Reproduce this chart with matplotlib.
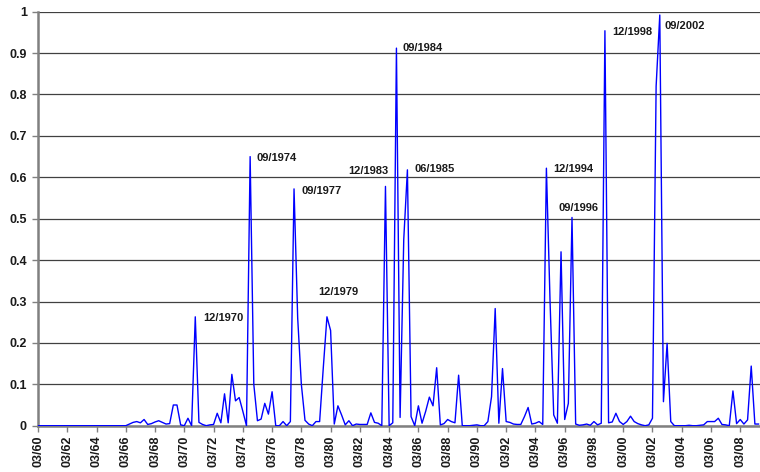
import matplotlib
matplotlib.use('Agg')
import matplotlib.pyplot as plt
from matplotlib.ticker import FixedLocator, FuncFormatter

plt.rcParams['font.family'] = ['Liberation Sans', 'DejaVu Sans']

# quarterly values, 03/1960 .. 06/2009 (one row per year)
values = [
    0, 0, 0, 0,                  # 1960
    0, 0, 0, 0,                  # 1961
    0, 0, 0, 0,                  # 1962
    0, 0, 0, 0,                  # 1963
    0, 0, 0, 0,                  # 1964
    0, 0, 0, 0,                  # 1965
    0.0, 0.004, 0.008, 0.01,     # 1966
    0.007, 0.015, 0.003, 0.005,  # 1967
    0.009, 0.012, 0.008, 0.004,  # 1968
    0.005, 0.05, 0.05, 0.002,    # 1969
    0.0, 0.018, 0.0, 0.263,      # 1970
    0.008, 0.003, 0.0, 0.002,    # 1971
    0.003, 0.03, 0.007, 0.077,   # 1972
    0.007, 0.124, 0.06, 0.068,   # 1973
    0.035, 0.0, 0.65, 0.1,       # 1974
    0.012, 0.016, 0.054, 0.028,  # 1975
    0.082, 0.0, 0.0, 0.01,       # 1976
    0.0, 0.01, 0.572, 0.26,      # 1977
    0.1, 0.013, 0.004, 0.0,      # 1978
    0.01, 0.01, 0.14, 0.263,     # 1979
    0.23, 0.004, 0.048, 0.026,   # 1980
    0.002, 0.012, 0.0, 0.004,    # 1981
    0.003, 0.003, 0.003, 0.031,  # 1982
    0.008, 0.006, 0.0, 0.578,    # 1983
    0.0, 0.007, 0.912, 0.02,     # 1984
    0.45, 0.618, 0.022, 0.0,     # 1985
    0.048, 0.006, 0.035, 0.069,  # 1986
    0.048, 0.14, 0.002, 0.005,   # 1987
    0.015, 0.01, 0.007, 0.122,   # 1988
    0.0, 0.0, 0.0, 0.001,        # 1989
    0.002, 0.0, 0.0, 0.01,       # 1990
    0.07, 0.283, 0.006, 0.138,   # 1991
    0.01, 0.008, 0.004, 0.003,   # 1992
    0.003, 0.022, 0.044, 0.004,  # 1993
    0.006, 0.01, 0.003, 0.622,   # 1994
    0.3, 0.026, 0.006, 0.42,     # 1995
    0.015, 0.054, 0.503, 0.004,  # 1996
    0.001, 0.002, 0.004, 0.001,  # 1997
    0.01, 0.002, 0.006, 0.954,   # 1998
    0.007, 0.009, 0.03, 0.01,    # 1999
    0.003, 0.01, 0.023, 0.01,    # 2000
    0.005, 0.002, 0.0, 0.002,    # 2001
    0.018, 0.82, 0.992, 0.058,   # 2002
    0.199, 0.01, 0.0, 0.0,       # 2003
    0.0, 0.0, 0.001, 0.0,        # 2004
    0.0, 0.001, 0.002, 0.01,     # 2005
    0.01, 0.01, 0.018, 0.003,    # 2006
    0.002, 0.0, 0.084, 0.005,    # 2007
    0.015, 0.004, 0.014, 0.144,  # 2008
    0.004, 0.004,                # 2009
]

tick_labels = ['03/60', '03/62', '03/64', '03/66', '03/68', '03/70', '03/72',
               '03/74', '03/76', '03/78', '03/80', '03/82', '03/84', '03/86',
               '03/88', '03/90', '03/92', '03/94', '03/96', '03/98', '03/00',
               '03/02', '03/04', '03/06', '03/08']

# peak labels: (label, quarter index, offset in pixels, alignment)
peak_labels = ['12/1970', '09/1974', '09/1977', '12/1979', '12/1983', '09/1984',
               '06/1985', '12/1994', '09/1996', '12/1998', '09/2002']
peak_index = [43, 58, 70, 79, 95, 98, 101, 139, 146, 155, 170]
label_offsets = [(8, -1), (6, -1), (7, -2), (-9, 25), (3, 15), (6, 0),
                 (7, 1), (7, -1), (-14, 9), (7, -1), (5, -11)]
label_align = ['left', 'left', 'left', 'left', 'right', 'left',
               'left', 'left', 'left', 'left', 'left']

x = list(range(len(values)))

fig = plt.figure(figsize=(7.6, 4.72), dpi=100)
ax = fig.add_axes([38 / 760, 46.3 / 472, 722 / 760, 414 / 472])

ax.plot(x, values, color='#0000ff', linewidth=1.0, zorder=3)

ax.set_xlim(0, 197.4)
ax.set_ylim(0, 1)

ax.xaxis.set_major_locator(FixedLocator(list(range(0, len(values), 8))))
ax.set_xticklabels(tick_labels, rotation=90, fontsize=9, fontweight='bold',
                   color='#1a1a1a')
ax.yaxis.set_major_locator(FixedLocator([i / 10 for i in range(11)]))
ax.yaxis.set_major_formatter(FuncFormatter(lambda v, p: '%g' % round(v, 1)))
for t in ax.get_yticklabels():
    t.set_fontsize(9)
    t.set_fontweight('bold')
    t.set_color('#1a1a1a')

ax.tick_params(axis='both', length=4, width=1, color='#808080')
ax.tick_params(axis='x', pad=3)
ax.tick_params(axis='y', pad=4)

ax.grid(axis='y', color='#404040', linewidth=0.9)
ax.set_axisbelow(True)

for s in ['top', 'right']:
    ax.spines[s].set_visible(False)
for s in ['left', 'bottom']:
    ax.spines[s].set_color('#808080')
    ax.spines[s].set_linewidth(1.8)

for lab, idx, off, ha in zip(peak_labels, peak_index, label_offsets, label_align):
    ax.annotate(lab, xy=(idx, values[idx]), xytext=off, textcoords='offset pixels',
                ha=ha, va='center', fontsize=8, fontweight='bold', color='#1a1a1a')

fig.savefig('out.png', dpi=100)
